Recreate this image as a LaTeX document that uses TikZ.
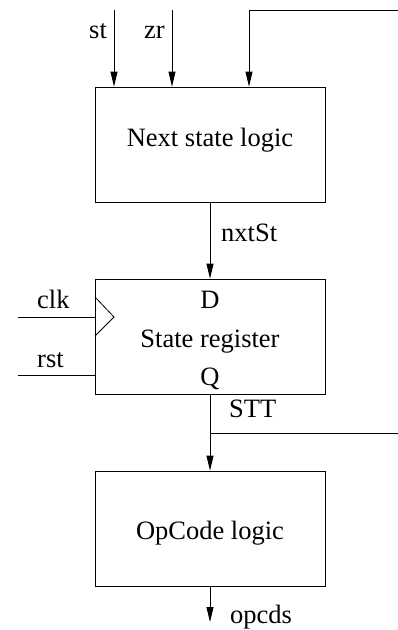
\documentclass[tikz,border=0pt]{standalone}
\usepackage{fontspec}
\setmainfont{Liberation Serif}
\usetikzlibrary{arrows.meta}

\tikzset{
  blk/.style={draw, line width=0.8pt, minimum width=230pt, minimum height=115pt, inner sep=0pt},
  lbl/.style={inner sep=0pt, font=\fontsize{26.5}{30}\selectfont},
  wire/.style={line width=0.8pt},
  arr/.style={wire, -{Triangle[length=15pt,width=7pt]}}
}

\begin{document}
\begin{tikzpicture}[x=1pt,y=-1pt]
  \useasboundingbox (0,0) rectangle (398,630);
  % blocks
  \node[blk] (nsl) at (210,144.5) {};
  \node[blk] (reg) at (210,336.5) {};
  \node[blk] (opc) at (210,528.5) {};
  \node[lbl,anchor=base] (nsltxt) at (210,146) {Next state logic};
  \node[lbl,anchor=base] (regD) at (210,308) {D};
  \node[lbl,anchor=base] (regtxt) at (210,347) {State register};
  \node[lbl,anchor=base] (regQ) at (210,385) {Q};
  \node[lbl,anchor=base] (opctxt) at (210,539) {OpCode logic};
  % clock mark
  \draw[wire] (95,297) -- (114,317) -- (95,336);
  % free ends
  \coordinate (stin) at (114,10);
  \coordinate (zrin) at (172,10);
  \coordinate (fbin) at (398,10);
  \coordinate (fbcor) at (249,10);
  \coordinate (clkin) at (18,317);
  \coordinate (rstin) at (18,375);
  \coordinate (sttj) at (210,433);
  \coordinate (sttout) at (398,433);
  \coordinate (opout) at (210,622);
  % wires
  \draw[arr] (stin) -- (stin |- nsl.north);
  \draw[arr] (zrin) -- (zrin |- nsl.north);
  \draw[arr] (fbin) -- (fbcor) -- (fbcor |- nsl.north);
  \draw[arr] (nsl.south) -- (reg.north);
  \draw[wire] (clkin) -- (clkin -| reg.west);
  \draw[wire] (rstin) -- (rstin -| reg.west);
  \draw[arr] (reg.south) -- (opc.north);
  \draw[wire] (sttj) -- (sttout);
  \draw[arr] (opc.south) -- (opout);
  % signal names
  \node[lbl,anchor=base west] (st) at (89,38) {st};
  \node[lbl,anchor=base west] (zr) at (144,38) {zr};
  \node[lbl,anchor=base west] (nxt) at (221,241) {nxtSt};
  \node[lbl,anchor=base west] (clk) at (37,308) {clk};
  \node[lbl,anchor=base west] (rst) at (37,367) {rst};
  \node[lbl,anchor=base west] (stt) at (229,417) {STT};
  \node[lbl,anchor=base west] (opcds) at (230,623) {opcds};
\end{tikzpicture}
\end{document}
